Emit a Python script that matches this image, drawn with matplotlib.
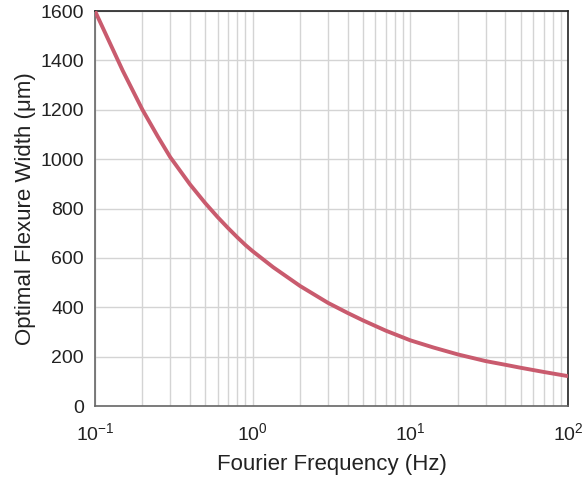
import matplotlib.pyplot as plt
import numpy as np

plt.rcParams['font.family'] = ['Liberation Sans', 'DejaVu Sans']
plt.rcParams['mathtext.fontset'] = 'custom'
plt.rcParams['mathtext.rm'] = 'Liberation Sans'
plt.rcParams['mathtext.it'] = 'Liberation Sans:italic'

# values
freq = [0.1, 0.15, 0.2, 0.25, 0.3, 0.4, 0.5, 0.6, 0.7, 0.8, 0.9, 1.0, 1.35,
        2, 3, 4, 5, 7, 10, 14, 20, 30, 40, 50, 70, 100]
width = [1600, 1358, 1200, 1092, 1008, 898, 822, 765, 720, 683, 652, 627, 562,
         486, 418, 377, 347, 305, 266, 237, 209, 182, 167, 155, 138, 121]

fig = plt.figure(figsize=(5.85, 4.83), dpi=100)
ax = fig.add_axes([0.1624, 0.1594, 0.8086, 0.8178])

ax.plot(freq, width, color='#c95b6e', lw=2.8, solid_capstyle='butt',
        solid_joinstyle='round', zorder=3)

ax.set_xscale('log')
ax.set_xlim(0.1, 100)
ax.set_ylim(0, 1600)
ax.set_yticks(np.arange(0, 1601, 200))

ax.grid(True, which='major', color='#d4d4d4', lw=1.0)
ax.grid(True, which='minor', axis='x', color='#d4d4d4', lw=1.0)
ax.tick_params(which='both', length=0, labelsize=14, colors='#222222')
ax.tick_params(axis='y', pad=8)
ax.tick_params(axis='x', pad=12)

for side in ['left', 'bottom']:
    ax.spines[side].set_color('#666666')
for side in ['top', 'right']:
    ax.spines[side].set_color('#222222')
for s in ax.spines.values():
    s.set_linewidth(1.2)

ax.set_xlabel('Fourier Frequency (Hz)', fontsize=16, color='#222222', labelpad=7)
ax.set_ylabel('Optimal Flexure Width (\u03bcm)', fontsize=16, color='#222222', labelpad=3)

fig.savefig('out.png', dpi=100)
